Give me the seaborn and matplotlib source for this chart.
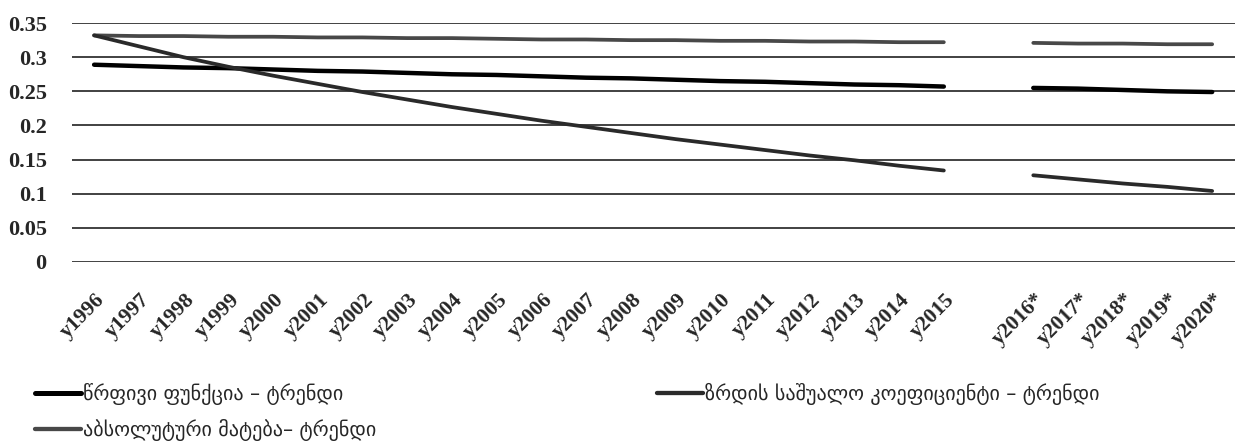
import numpy as np
import pandas as pd
import matplotlib
matplotlib.use("Agg")
import matplotlib.pyplot as plt
import matplotlib.transforms as mtransforms
from matplotlib.lines import Line2D
import seaborn as sns

# categories (blank slot between 2015 and the forecast years)
years = ["y1996", "y1997", "y1998", "y1999", "y2000", "y2001", "y2002", "y2003",
         "y2004", "y2005", "y2006", "y2007", "y2008", "y2009", "y2010", "y2011",
         "y2012", "y2013", "y2014", "y2015", "",
         "y2016*", "y2017*", "y2018*", "y2019*", "y2020*"]

linear_trend = [0.289, 0.287, 0.285, 0.284, 0.282, 0.280, 0.279, 0.277, 0.275, 0.274,
                0.272, 0.270, 0.269, 0.267, 0.265, 0.264, 0.262, 0.260, 0.259, 0.257,
                np.nan,
                0.255, 0.254, 0.252, 0.250, 0.249]
growth_trend = [0.332, 0.316, 0.300, 0.286, 0.273, 0.261, 0.249, 0.238, 0.227, 0.217,
                0.207, 0.198, 0.189, 0.180, 0.172, 0.164, 0.156, 0.149, 0.141, 0.134,
                np.nan,
                0.127, 0.121, 0.115, 0.110, 0.104]
absolute_trend = [0.332, 0.331, 0.331, 0.330, 0.330, 0.329, 0.329, 0.328, 0.328, 0.327,
                  0.326, 0.326, 0.325, 0.325, 0.324, 0.324, 0.323, 0.323, 0.322, 0.322,
                  np.nan,
                  0.321, 0.320, 0.320, 0.319, 0.319]

names = ["წრფივი ფუნქცია – ტრენდი",
         "აბსოლუტური მატება– ტრენდი",
         "ზრდის საშუალო კოეფიციენტი – ტრენდი"]
series = [linear_trend, absolute_trend, growth_trend]
colors = ["#000000", "#484848", "#2a2a2a"]
widths = [3.2, 2.7, 2.7]

pos = np.arange(len(years))
gap = years.index("")
rows = []
for name, vals in zip(names, series):
    for i, v in enumerate(vals):
        if not np.isnan(v):
            rows.append({"x": pos[i], "value": v, "series": name, "seg": int(i > gap)})
df = pd.DataFrame(rows)

sns.set_style("white")
fig = plt.figure(figsize=(12.37, 4.44), dpi=100)
ax = fig.add_axes([0.058, 0.41, 0.94, 0.538])

for name, c, w in zip(names, colors, widths):
    sub = df[df["series"] == name]
    sns.lineplot(data=sub, x="x", y="value", units="seg", estimator=None,
                 color=c, linewidth=w, ax=ax, legend=False, solid_capstyle="round")

ax.set_ylim(0, 0.35)
ax.set_xlim(-0.5, len(years) - 0.5)
ax.set_yticks([0, 0.05, 0.1, 0.15, 0.2, 0.25, 0.3, 0.35])
ax.set_yticklabels(["0", "0.05", "0.1", "0.15", "0.2", "0.25", "0.3", "0.35"],
                   fontsize=16, fontweight="bold", family="Liberation Serif")
ax.set_xticks(pos)
ax.set_xticklabels(years, rotation=45, ha="right", va="center", rotation_mode="anchor",
                   fontsize=15.5, fontweight="bold", family="Liberation Serif")
ax.tick_params(axis="x", length=0, pad=25)
ax.tick_params(axis="y", length=0, pad=18)
shift = mtransforms.ScaledTranslation(8 / 100, 0, fig.dpi_scale_trans)
for lab in ax.get_xticklabels():
    lab.set_transform(lab.get_transform() + shift)
ax.grid(axis="y", color="#333333", linewidth=1.3)
ax.set_axisbelow(True)
for s in ax.spines.values():
    s.set_visible(False)
ax.set_xlabel("")
ax.set_ylabel("")

handles = [Line2D([0], [0], color=c, linewidth=w + 0.4, solid_capstyle="round")
           for c, w in zip(colors, widths)]
fig.legend(handles, names, loc="upper left", bbox_to_anchor=(35 / 1237, 1 - 383 / 444),
           ncol=2, frameon=False, prop={"family": "DejaVu Sans", "size": 14.5},
           handlelength=2.3, handletextpad=0.1, columnspacing=13.9,
           labelspacing=0.7, borderpad=0, borderaxespad=0)

fig.savefig("out.png", dpi=100)
